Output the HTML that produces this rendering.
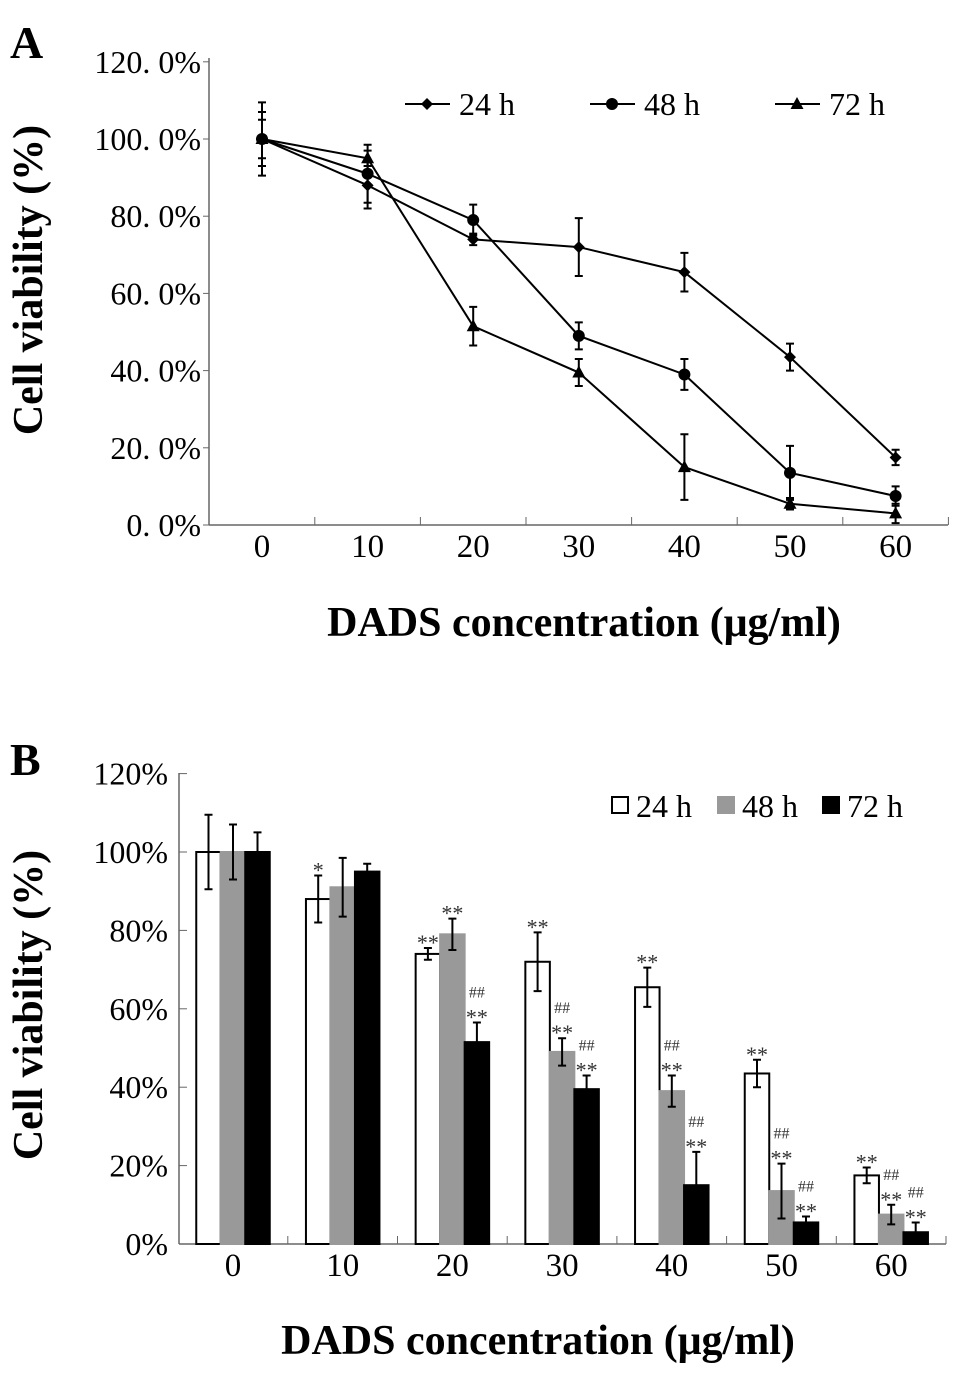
<!DOCTYPE html>
<html><head><meta charset="utf-8"><style>
html,body{margin:0;padding:0;background:#fff;}
svg{display:block;}
svg text{font-family:"Liberation Serif",serif;}
</style></head><body>
<svg id="chart" width="977" height="1383" viewBox="0 0 977 1383" xmlns="http://www.w3.org/2000/svg">
<text x="10" y="58" font-size="46" font-weight="bold">A</text>
<text x="10" y="775" font-size="46" font-weight="bold">B</text>
<g id="gA"></g>
<g id="gB"></g>
</svg>
<script>
const categories = [0, 10, 20, 30, 40, 50, 60];
const v24 = [100, 88, 74, 72, 65.5, 43.5, 17.5];
const e24 = [9.5, 6, 1.5, 7.5, 5, 3.5, 2];
const v48 = [100, 91, 79, 49, 39, 13.5, 7.5];
const e48 = [7, 7.5, 4, 3.5, 4, 7, 2.5];
const v72 = [100, 95, 51.5, 39.5, 15, 5.5, 3];
const e72 = [5, 2, 5, 3.5, 8.5, 1.5, 2.5];
const ticksA = ["0. 0%", "20. 0%", "40. 0%", "60. 0%", "80. 0%", "100. 0%", "120. 0%"];
const ticksB = ["0%", "20%", "40%", "60%", "80%", "100%", "120%"];
const tickVals = [0, 20, 40, 60, 80, 100, 120];
const sig24 = ["", "*", "**", "**", "**", "**", "**"];
const sig48 = ["", "", "**", "##\n**", "##\n**", "##\n**", "##\n**"];
const sig72 = ["", "", "##\n**", "##\n**", "##\n**", "##\n**", "##\n**"];

const NS = "http://www.w3.org/2000/svg";
function mk(parent, tag, attrs, text) {
  const el = document.createElementNS(NS, tag);
  for (const k in attrs) el.setAttribute(k, attrs[k]);
  if (text !== undefined) el.textContent = text;
  parent.appendChild(el);
  return el;
}

// Panel A
const gA = document.getElementById('gA');
const ayA = v => 525 - v * 3.86;
const axA = i => 262 + i * 105.6;
let el;
el = mk(gA, 'line', {x1:209, y1:525, x2:948, y2:525, stroke:'#666', 'stroke-width':1.5});
 
el = mk(gA, 'line', {x1:209, y1:58, x2:209, y2:525, stroke:'#666', 'stroke-width':1.5});
 
tickVals.forEach((t, j) => {
  mk(gA, 'line', {x1:203, y1:ayA(t), x2:209, y2:ayA(t), stroke:'#666'});
  el = mk(gA, 'text', {x:201, y:ayA(t) + 11, 'font-size':32, 'text-anchor':'end'}, ticksA[j]);
   
});
categories.forEach((c, i) => {
  mk(gA, 'line', {x1:axA(i) + 52.8, y1:517, x2:axA(i) + 52.8, y2:525, stroke:'#666'});
  el = mk(gA, 'text', {x:axA(i), y:557, 'font-size':33, 'text-anchor':'middle'}, c);
   
});
el = mk(gA, 'text', {x:42, y:280, 'font-size':42, 'font-weight':'bold', 'text-anchor':'middle', transform:'rotate(-90 42 280)'}, 'Cell viability (%)');
 
el = mk(gA, 'text', {x:584, y:636, 'font-size':42, 'font-weight':'bold', 'text-anchor':'middle'}, 'DADS concentration (μg/ml)');
 

function marker(g, type, x, y) {
  if (type === 'd') return mk(g, 'polygon', {points:`${x},${y-6} ${x+6},${y} ${x},${y+6} ${x-6},${y}`, fill:'#000'});
  if (type === 'c') return mk(g, 'circle', {cx:x, cy:y, r:6, fill:'#000'});
  return mk(g, 'polygon', {points:`${x},${y-7} ${x+6.5},${y+5} ${x-6.5},${y+5}`, fill:'#000'});
}
[[v24, e24, 'd', '24h'], [v48, e48, 'c', '48h'], [v72, e72, 't', '72h']].forEach(([vals, errs, m, nm]) => {
  const pts = vals.map((v, i) => `${axA(i)},${ayA(v)}`).join(' ');
  el = mk(gA, 'polyline', {points:pts, fill:'none', stroke:'#000', 'stroke-width':2});
   
  vals.forEach((v, i) => {
    const x = axA(i), y1 = ayA(v + errs[i]), y2 = ayA(v - errs[i]);
    mk(gA, 'path', {d:`M${x},${y1}V${y2}M${x-4},${y1}H${x+4}M${x-4},${y2}H${x+4}`, stroke:'#000', 'stroke-width':2, fill:'none'});
    el = marker(gA, m, x, ayA(v));
     
  });
});
[['d', 405, '24 h'], ['c', 590, '48 h'], ['t', 775, '72 h']].forEach(([m, x, lab]) => {
  mk(gA, 'line', {x1:x, y1:104, x2:x + 45, y2:104, stroke:'#000', 'stroke-width':2});
  marker(gA, m, x + 22, 104);
  el = mk(gA, 'text', {x:x + 54, y:115, 'font-size':32}, lab);
   
});

// Panel B
const gB = document.getElementById('gB');
const ayB = v => 1244 - v * 3.92;
const axB = i => 233 + i * 109.7;
const bw = 24.5;
el = mk(gB, 'line', {x1:179, y1:1244, x2:946, y2:1244, stroke:'#666', 'stroke-width':1.5});
 
el = mk(gB, 'line', {x1:179, y1:773, x2:179, y2:1244, stroke:'#666', 'stroke-width':1.5});
 
tickVals.forEach((t, j) => {
  mk(gB, 'line', {x1:179, y1:ayB(t), x2:187, y2:ayB(t), stroke:'#666'});
  el = mk(gB, 'text', {x:168, y:ayB(t) + 11, 'font-size':32, 'text-anchor':'end'}, ticksB[j]);
   
});
categories.forEach((c, i) => {
  mk(gB, 'line', {x1:axB(i) + 54.8, y1:1236, x2:axB(i) + 54.8, y2:1244, stroke:'#666'});
  el = mk(gB, 'text', {x:axB(i), y:1276, 'font-size':33, 'text-anchor':'middle'}, c);
   
});
el = mk(gB, 'text', {x:42, y:1005, 'font-size':42, 'font-weight':'bold', 'text-anchor':'middle', transform:'rotate(-90 42 1005)'}, 'Cell viability (%)');
 
el = mk(gB, 'text', {x:538, y:1354, 'font-size':42, 'font-weight':'bold', 'text-anchor':'middle'}, 'DADS concentration (μg/ml)');
 

[[v24, e24, sig24, -1, '#fff', '24h'], [v48, e48, sig48, 0, '#999', '48h'], [v72, e72, sig72, 1, '#000', '72h']].forEach(([vals, errs, sig, off, col, nm]) => {
  vals.forEach((v, i) => {
    const cx = axB(i) + off * bw, x = cx - bw / 2;
    el = mk(gB, 'rect', {x:x, y:ayB(v), width:bw, height:1244 - ayB(v), fill:col, stroke: col === '#fff' ? '#000' : col, 'stroke-width':2});
     
    const y1 = ayB(v + errs[i]), y2 = ayB(v - errs[i]);
    mk(gB, 'path', {d:`M${cx},${y1}V${y2}M${cx-4},${y1}H${cx+4}M${cx-4},${y2}H${cx+4}`, stroke:'#000', 'stroke-width':2, fill:'none'});
    const lines = sig[i] ? sig[i].split('\n') : [];
    lines.forEach((s, k) => {
      const yy = y1 - 4 - (lines.length - 1 - k) * 21;
      el = mk(gB, 'text', {x:cx, y:yy + (s[0] === '*' ? 6 : 0), 'font-size': s[0] === '#' ? 16 : 22, 'text-anchor':'middle', fill:'#333'}, s);
       
    });
  });
});
[['#fff', 612, '24 h'], ['#999', 718, '48 h'], ['#000', 823, '72 h']].forEach(([col, x, lab]) => {
  mk(gB, 'rect', {x:x, y:797, width:16, height:16, fill:col, stroke: col === '#fff' ? '#000' : col, 'stroke-width':2});
  el = mk(gB, 'text', {x:x + 24, y:817, 'font-size':32}, lab);
   
});
</script>
</body></html>
